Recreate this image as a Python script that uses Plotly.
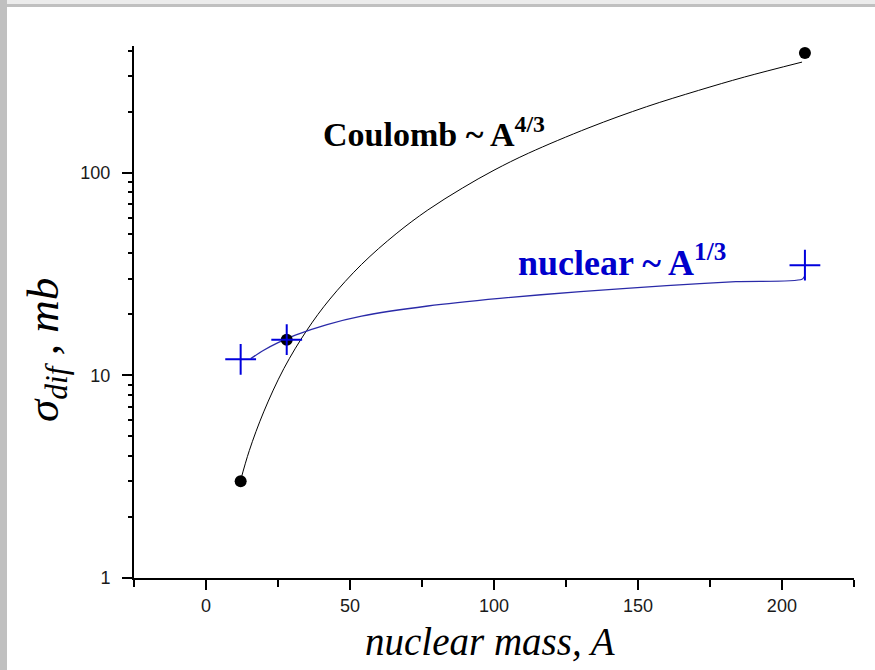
import plotly.graph_objects as go

# ---- data ----
coulomb_A = [12, 28, 208]
coulomb_sigma = [3.0, 15, 390]
nuclear_A = [12, 28, 208]
nuclear_sigma = [12, 15, 35]

coulomb_curve_A = [12, 15, 20, 27, 35, 43, 54, 66, 77, 89, 100, 112, 133, 153, 171, 187, 207]
coulomb_curve_sigma = [3.04, 4.25, 6.6, 10.8, 16.7, 23.8, 35.3, 50, 65.5, 84, 103, 125, 167, 212, 255, 297, 352]

nuclear_curve_A = [15.5, 20, 25, 31, 42, 54, 77, 102, 130, 160, 184, 207, 208]
nuclear_curve_sigma = [12.1, 13.3, 14.5, 15.8, 17.8, 19.6, 22.0, 24.0, 25.9, 27.7, 29.0, 29.8, 31.0]

x_tick_vals = [0, 50, 100, 150, 200]
y_tick_vals = [1, 10, 100]
y_tick_text = ["1", "10", "100"]

coulomb_label = "<b>Coulomb ~ A<sup>4/3</sup></b>"
nuclear_label = "<b>nuclear ~ A<sup>1/3</sup></b>"
x_title = "nuclear mass, A"
y_title = "σ<sub>dif</sub> , mb"

# ---- figure ----
W, H = 875, 670
L, R, T, B = 134, 21, 46, 92
pw, ph = W - L - R, H - T - B


def px_x(x):
    return (x - L) / pw


def px_y(y):
    return (H - B - y) / ph


fig = go.Figure()

fig.add_trace(go.Scatter(x=coulomb_curve_A, y=coulomb_curve_sigma, mode="lines",
                         line=dict(color="black", width=1, shape="spline", smoothing=1.0),
                         hoverinfo="skip", showlegend=False))
fig.add_trace(go.Scatter(x=nuclear_curve_A, y=nuclear_curve_sigma, mode="lines",
                         line=dict(color="#2a2aa8", width=1.3, shape="spline", smoothing=0.8),
                         hoverinfo="skip", showlegend=False))
fig.add_trace(go.Scatter(x=coulomb_A, y=coulomb_sigma, mode="markers",
                         marker=dict(symbol="circle", size=12, color="black"),
                         showlegend=False))
fig.add_trace(go.Scatter(x=nuclear_A, y=nuclear_sigma, mode="markers",
                         marker=dict(symbol="cross-thin", size=22,
                                     line=dict(color="#0000dd", width=2)),
                         showlegend=False))

axis_common = dict(showline=True, linewidth=2, linecolor="black", showgrid=False,
                   zeroline=False, ticks="outside", tickwidth=2, tickcolor="black",
                   ticklen=10,
                   tickfont=dict(family="Liberation Sans, Arial", size=18, color="#1a1a1a"))

fig.update_xaxes(range=[-25.05, 225.05], tickmode="array", tickvals=x_tick_vals,
                 minor=dict(dtick=25, tick0=-25, ticks="outside", ticklen=7, tickwidth=2,
                            tickcolor="black", showgrid=False),
                 **axis_common)
fig.update_yaxes(type="log", range=[-0.0005, 2.626], tickmode="array",
                 tickvals=y_tick_vals, ticktext=y_tick_text, ticklabelstandoff=8,
                 minor=dict(dtick="D1", ticks="outside", ticklen=4, tickwidth=2,
                            tickcolor="black", showgrid=False),
                 **axis_common)

annotations = [
    dict(text=coulomb_label, xref="paper", yref="paper", x=px_x(321), y=px_y(132),
         xanchor="left", yanchor="middle", showarrow=False,
         font=dict(family="Liberation Serif", size=34, color="black")),
    dict(text=nuclear_label, xref="paper", yref="paper", x=px_x(516), y=px_y(260),
         xanchor="left", yanchor="middle", showarrow=False,
         font=dict(family="Liberation Serif", size=36, color="#0000cc")),
    dict(text=x_title, xref="paper", yref="paper", x=px_x(490), y=px_y(641),
         xanchor="center", yanchor="middle", showarrow=False,
         font=dict(family="Liberation Serif", size=39, color="black", style="italic")),
    dict(text=y_title, xref="paper", yref="paper", x=px_x(46), y=px_y(350),
         xanchor="center", yanchor="middle", showarrow=False, textangle=-90,
         font=dict(family="Liberation Serif", size=45, color="black", style="italic")),
]

shapes = [
    dict(type="rect", xref="paper", yref="paper", x0=px_x(0), x1=px_x(W), y0=px_y(4),
         y1=px_y(0), fillcolor="#ececec", line=dict(width=0), layer="above"),
    dict(type="rect", xref="paper", yref="paper", x0=px_x(0), x1=px_x(W), y0=px_y(7),
         y1=px_y(4), fillcolor="#c0c0c0", line=dict(width=0), layer="above"),
    dict(type="rect", xref="paper", yref="paper", x0=px_x(0), x1=px_x(7), y0=px_y(H),
         y1=px_y(0), fillcolor="#c0c0c0", line=dict(width=0), layer="above"),
]

fig.update_layout(width=W, height=H, margin=dict(l=L, r=R, t=T, b=B),
                  paper_bgcolor="white", plot_bgcolor="white",
                  annotations=annotations, shapes=shapes, showlegend=False)

fig.write_html("out.html")
